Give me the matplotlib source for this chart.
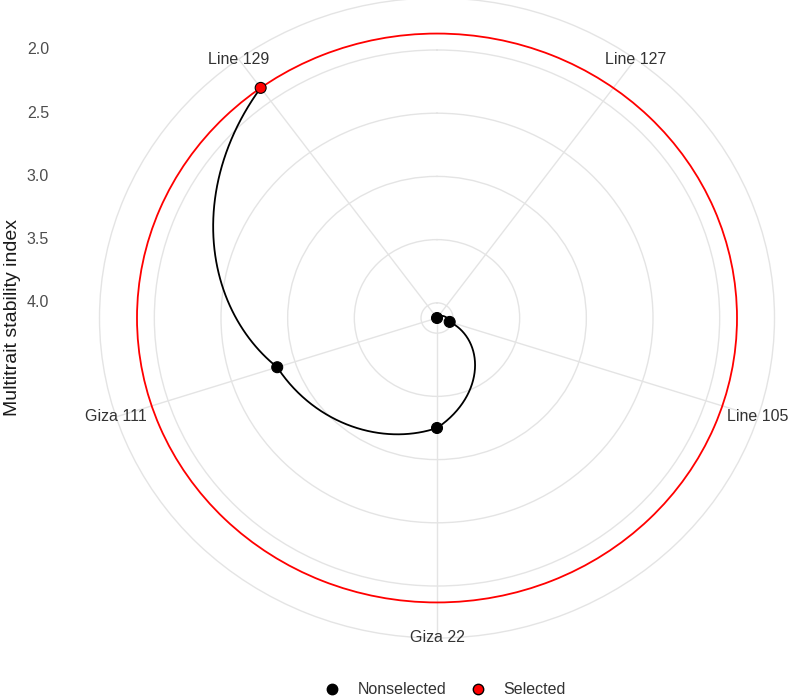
"""
Polar plot of the multitrait stability index (MTSI) per genotype
"""

import numpy as np
import matplotlib
matplotlib.use("Agg")
import matplotlib.pyplot as plt
from matplotlib.lines import Line2D

plt.rcParams['font.family'] = ['Liberation Sans', 'DejaVu Sans']

# values
genotypes = ['Line 127', 'Line 105', 'Giza 22', 'Giza 111', 'Line 129']
mtsi = np.array([4.12, 4.02, 3.25, 2.86, 1.87])
selected = np.array([False, False, False, False, True])
r_breaks = [2.0, 2.5, 3.0, 3.5, 4.0]

grid_col = '#E4E4E4'
sel_col = 'red'

# order like reorder(Genotype, -MTSI): highest index first
order = np.argsort(-mtsi, kind='stable')
names = [genotypes[i] for i in order]
vals = mtsi[order]
sel = selected[order]
n = len(vals)
theta = (np.arange(n) + 0.5) * 2 * np.pi / n

cutpoint = vals[sel].max()
r_center = vals.max()
r_outer = r_center - 1.125 * (r_center - vals.min())

fig = plt.figure(figsize=(7.94, 7.0), dpi=100)
ax = fig.add_axes([99.5 / 794, 62 / 700, 675 / 794, 640 / 700], projection='polar')
ax.set_aspect('auto')
ax.set_theta_zero_location('N')
ax.set_theta_direction(-1)
ax.set_rlim(r_center, r_outer)

# grid: spokes and rings
ax.set_xticks(theta)
ax.set_xticklabels([])
ax.set_yticks(r_breaks)
ax.set_yticklabels([])
ax.grid(True, color=grid_col, linewidth=1.0)
ax.spines['polar'].set_color(grid_col)
ax.spines['polar'].set_linewidth(1.0)
ax.tick_params(length=0)

# cutoff ring
ax.axhline(cutpoint, color=sel_col, linewidth=1.3, zorder=2,
           solid_capstyle='butt')

# path between genotypes (interpolated in data space, like coord_polar)
ln, = ax.plot(theta, vals, color='black', linewidth=1.3, zorder=3)
ln.get_path()._interpolation_steps = 100

colors = np.where(sel, sel_col, 'black')
ax.scatter(theta, vals, s=62, c=colors, edgecolors='black', linewidths=0.8,
           zorder=4, clip_on=False)

for t, name in zip(theta, names):
    ax.text(t, r_outer, name, ha='center', va='center', fontsize=11.5,
            color='#333333', zorder=5)

# radial axis labels on the left, like ggplot
inv = fig.transFigure.inverted()
for b in r_breaks:
    px = ax.transData.transform((0, b))
    _, fy = inv.transform(px)
    fig.text(49 / 794, fy, f'{b:.1f}', ha='right', va='center', fontsize=11.5,
             color='#4D4D4D')

cy = inv.transform(ax.transData.transform((0, r_center)))[1]
fig.text(13 / 794, cy, 'Multitrait stability index', rotation=90,
         ha='center', va='center', fontsize=14, color='#1A1A1A')

handles = [
    Line2D([], [], marker='o', linestyle='none', markersize=7.5,
           markerfacecolor='black', markeredgecolor='black', label='Nonselected'),
    Line2D([], [], marker='o', linestyle='none', markersize=7.5,
           markerfacecolor=sel_col, markeredgecolor='black', label='Selected'),
]
fig.legend(handles=handles, loc='center', bbox_to_anchor=(445 / 794, 10 / 700),
           ncol=2, frameon=False, fontsize=11.5, handlelength=1.0,
           handletextpad=1.1, columnspacing=1.5, labelcolor='#333333')

fig.savefig('out.png', dpi=100, facecolor='white')
